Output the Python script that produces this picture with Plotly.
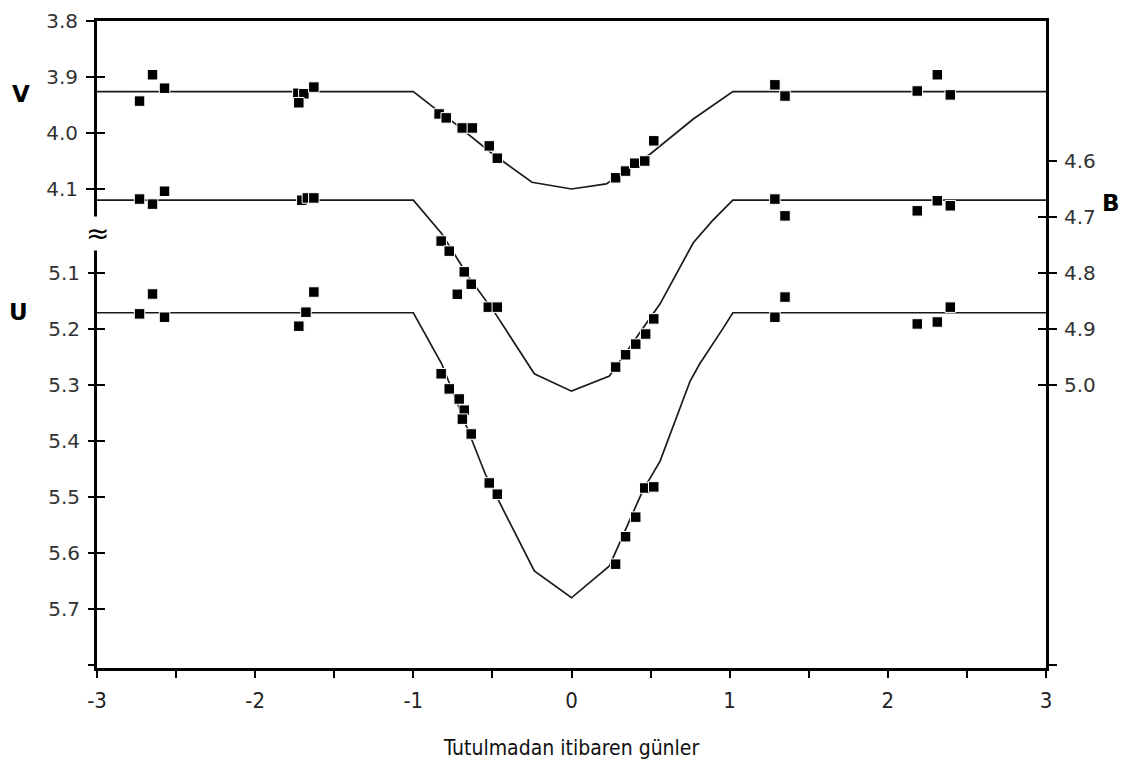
import plotly.graph_objects as go

# ---------------- data ----------------
# days from eclipse
V_x = [-2.731, -2.649, -2.573, -1.730, -1.692, -1.724, -1.629,
       -0.837, -0.792, -0.691, -0.627, -0.520, -0.469,
       0.279, 0.342, 0.400, 0.463, 0.520,
       1.286, 1.350, 2.186, 2.313, 2.395]
V_mag = [3.943, 3.896, 3.920, 3.929, 3.930, 3.946, 3.918,
         3.966, 3.973, 3.991, 3.991, 4.023, 4.045,
         4.080, 4.068, 4.054, 4.050, 4.014,
         3.914, 3.934, 3.925, 3.896, 3.932]

B_x = [-2.731, -2.649, -2.573, -1.705, -1.670, -1.629,
       -0.824, -0.773, -0.678, -0.634, -0.722, -0.526, -0.469,
       0.279, 0.342, 0.406, 0.469, 0.520,
       1.286, 1.350, 2.186, 2.313, 2.395]
B_mag = [4.668, 4.677, 4.654, 4.670, 4.666, 4.666,
         4.743, 4.761, 4.798, 4.820, 4.838, 4.861, 4.861,
         4.968, 4.946, 4.927, 4.909, 4.882,
         4.668, 4.698, 4.689, 4.671, 4.680]

U_x = [-2.731, -2.649, -2.573, -1.724, -1.679, -1.629,
       -0.824, -0.773, -0.710, -0.678, -0.690, -0.634, -0.520, -0.469,
       0.279, 0.342, 0.406, 0.463, 0.520,
       1.286, 1.350, 2.186, 2.313, 2.395]
U_mag = [5.173, 5.1375, 5.179, 5.195, 5.170, 5.134,
         5.280, 5.307, 5.325, 5.345, 5.361, 5.3875, 5.475, 5.495,
         5.620, 5.571, 5.536, 5.484, 5.482,
         5.179, 5.143, 5.191, 5.1875, 5.161]

# model light curves
V_model_x = [-3, -1.0, -0.86, -0.75, -0.5, -0.25, 0, 0.22, 0.5, 0.77, 1.02, 3]
V_model = [3.926, 3.926, 3.957, 3.980, 4.037, 4.088, 4.100, 4.091, 4.037, 3.975, 3.926, 3.926]

B_model_x = [-3, -1.0, -0.82, -0.65, -0.48, -0.235, 0, 0.24, 0.56, 0.77, 0.89, 1.02, 3]
B_model = [4.670, 4.670, 4.730, 4.807, 4.873, 4.980, 5.011, 4.984, 4.855, 4.746, 4.707, 4.670, 4.670]

U_model_x = [-3, -1.0, -0.82, -0.545, -0.45, -0.235, 0, 0.24, 0.45, 0.56, 0.75, 0.81, 0.96, 1.02, 3]
U_model = [5.171, 5.171, 5.2625, 5.459, 5.5125, 5.632, 5.680, 5.623, 5.489, 5.436, 5.293, 5.2625, 5.198, 5.171, 5.171]

# ticks
x_tickvals = [-3, -2.5, -2, -1.5, -1, -0.5, 0, 0.5, 1, 1.5, 2, 2.5, 3]
x_ticktext = ["-3", "", "-2", "", "-1", "", "0", "", "1", "", "2", "", "3"]
V_ticks = [3.8, 3.9, 4.0, 4.1]
V_ticktext = ["3.8", "3.9", "4.0", "4.1"]
U_ticks = [5.1, 5.2, 5.3, 5.4, 5.5, 5.6, 5.7, 5.8]
U_ticktext = ["5.1", "5.2", "5.3", "5.4", "5.5", "5.6", "5.7", ""]
B_ticks = [4.6, 4.7, 4.8, 4.9, 5.0, 5.5]
B_ticktext = ["4.6", "4.7", "4.8", "4.9", "5.0", ""]

x_title = "Tutulmadan itibaren günler"

# axis ranges (reversed magnitudes; same scale on all three)
V_range = [4.9554, 3.8]
U_range = [5.8054, 4.65]
B_range = [5.5054, 4.35]

# ---------------- figure ----------------
LINE = "#1a1a1a"
fig = go.Figure()

for xs, ys, ax in [(V_model_x, V_model, "y"), (B_model_x, B_model, "y3"), (U_model_x, U_model, "y2")]:
    fig.add_trace(go.Scatter(x=xs, y=ys, yaxis=ax, mode="lines",
                             line=dict(color=LINE, width=1.7), showlegend=False,
                             hoverinfo="skip"))

for xs, ys, ax in [(V_x, V_mag, "y"), (B_x, B_mag, "y3"), (U_x, U_mag, "y2")]:
    fig.add_trace(go.Scatter(x=xs, y=ys, yaxis=ax, mode="markers",
                             marker=dict(symbol="square", size=10.5, color="black",
                                         line=dict(color="white", width=1)),
                             showlegend=False))

tickfont = dict(family="DejaVu Sans, Liberation Sans, sans-serif", size=20, color="#333")
xtickfont = dict(family="DejaVu Sans Condensed, DejaVu Sans, sans-serif", size=22, color="#222")

common_y = dict(showgrid=False, zeroline=False, tickfont=tickfont,
                ticklen=8, tickwidth=2, tickcolor="black")

fig.update_layout(
    width=1137, height=765,
    margin=dict(l=89, r=99, t=13, b=105, autoexpand=False),
    paper_bgcolor="white", plot_bgcolor="white",
    xaxis=dict(range=[-3, 3], tickvals=x_tickvals, ticktext=x_ticktext,
               ticks="outside", ticklen=7, tickwidth=2, tickcolor="black",
               showline=True, linewidth=3, linecolor="black", mirror=True,
               showgrid=False, zeroline=False, tickfont=xtickfont, ticklabelstandoff=4,
               title=dict(text=x_title, font=dict(family="DejaVu Sans Condensed, DejaVu Sans, sans-serif",
                                                  size=21, color="#111"), standoff=28)),
    yaxis=dict(range=V_range, tickvals=V_ticks, ticktext=V_ticktext, side="left",
               ticks="outside", showline=True, linewidth=3, linecolor="black",
               ticklabelstandoff=4, **common_y),
    yaxis2=dict(range=U_range, tickvals=U_ticks, ticktext=U_ticktext, side="left",
                overlaying="y", anchor="x", ticks="outside", showline=False,
                ticklabelstandoff=4, **common_y),
    yaxis3=dict(range=B_range, tickvals=B_ticks, ticktext=B_ticktext, side="right",
                overlaying="y", anchor="x", ticks="outside", showline=True, linewidth=3,
                linecolor="black", ticklabelstandoff=3, **common_y),
    yaxis4=dict(range=V_range, tickvals=V_ticks, side="left", overlaying="y", anchor="x",
                ticks="inside", showticklabels=False, showline=False, layer="above traces",
                **common_y),
    yaxis5=dict(range=U_range, tickvals=U_ticks[:-1], side="left", overlaying="y", anchor="x",
                ticks="inside", showticklabels=False, showline=False, layer="above traces",
                **common_y),
    yaxis6=dict(range=B_range, tickvals=B_ticks[1:-1], side="right", overlaying="y", anchor="x",
                ticks="inside", showticklabels=False, showline=False, layer="above traces",
                **common_y),
)

# transparent traces so the tick-only axes are drawn
for ax, yv in [("y4", V_ticks[0]), ("y5", U_ticks[0]), ("y6", B_ticks[0])]:
    fig.add_trace(go.Scatter(x=[0], y=[yv], yaxis=ax, mode="markers",
                             marker=dict(opacity=0), showlegend=False, hoverinfo="skip"))

labfont = dict(family="DejaVu Sans, Liberation Sans, sans-serif", size=23, color="black")
fig.add_annotation(text="<b>V</b>", xref="paper", yref="y", x=-0.08, y=V_model[0] + 0.004,
                   showarrow=False, font=labfont, xanchor="center", yanchor="middle")
fig.add_annotation(text="<b>U</b>", xref="paper", yref="y2", x=-0.083, y=U_model[0] - 0.002,
                   showarrow=False, font=labfont, xanchor="center", yanchor="middle")
fig.add_annotation(text="<b>B</b>", xref="paper", yref="y3", x=1.068, y=4.675,
                   showarrow=False, font=labfont, xanchor="center", yanchor="middle")
# axis break mark
fig.add_annotation(text="≈", xref="paper", yref="y", x=0.0, y=4.18,
                   showarrow=False, font=dict(family="DejaVu Sans", size=28, color="black"),
                   bgcolor="white", xanchor="center", yanchor="middle", borderpad=0)

fig.write_html("out.html")
